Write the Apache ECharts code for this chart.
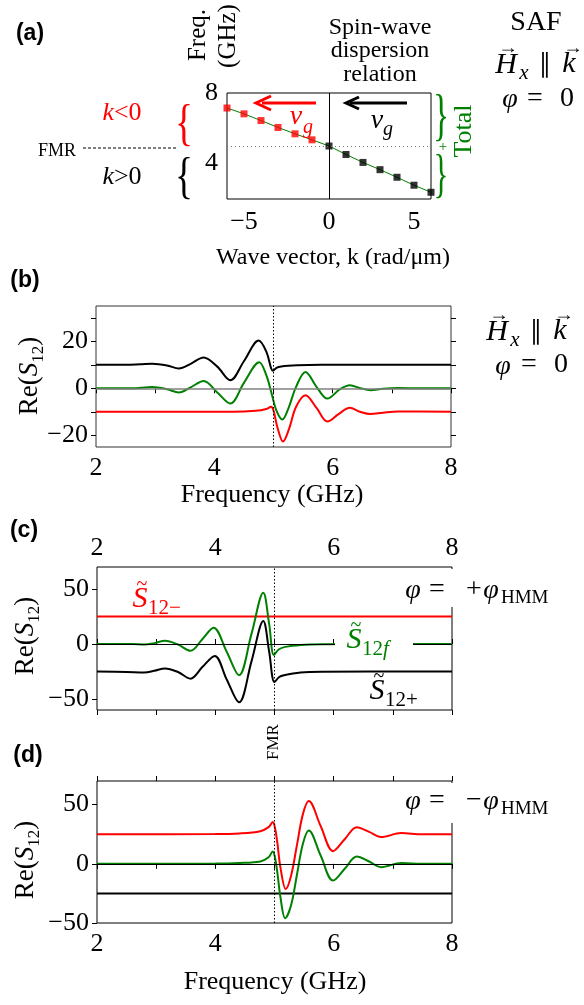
<!DOCTYPE html>
<html><head><meta charset="utf-8">
<script src="https://cdn.jsdelivr.net/npm/echarts@6/dist/echarts.min.js"></script>
<style>html,body{margin:0;padding:0;background:#fff}#c{width:584px;height:1005px}</style>
</head><body><div id="c"></div>
<script>
const SERIF = 'Liberation Serif';
const SANS = 'Liberation Sans';
const RED = '#ff0000', GREEN = '#008000', BLACK = '#000000';

// (a) spin-wave dispersion
const kValues = [-6,-5,-4,-3,-2,-1,0,1,2,3,4,5,6];
const fDispersion = [7.15,6.82,6.44,6.05,5.69,5.35,5.0,4.52,4.07,3.66,3.23,2.78,2.38];
const fmrFreq = 5;
const kTickLabels = [-5,0,5];
const aFreqLabels = [4,8];

// shared frequency axis
const freqTicks = [2,3,4,5,6,7,8];
const freqLabels = [2,4,6,8];

// (b) phi = 0
const bTicks = [-20,-10,0,10,20,30];
const bLabels = [-20,0,20];
const bBlack = [[2,10],[2.5,10],[2.75,10.2],[2.95,10.4],[3.2,9.7],[3.4,8.4],[3.6,10.4],[3.82,13.1],[4.05,9.2],[4.27,3.4],[4.5,11.5],[4.75,20.3],[4.88,15.5],[4.96,8.5],[4.99,7.4],[5.05,8.7],[5.13,9.3],[5.4,9.8],[5.8,10],[8,10]];
const bGreen = [[2,0],[2.6,0],[2.95,0.5],[3.2,-0.4],[3.4,-1.8],[3.6,0.4],[3.82,3.1],[4.05,-1.8],[4.27,-6.5],[4.5,2.3],[4.76,11.1],[4.88,5.5],[4.96,-1.5],[5.05,-9.5],[5.15,-13.3],[5.26,-8],[5.38,0.5],[5.54,6.9],[5.73,0.5],[5.91,-4.4],[6.12,-0.5],[6.29,1.3],[6.47,0],[6.64,-0.8],[6.85,-0.2],[7.1,0.1],[7.5,0],[8,0]];
const bRed = [[2,-10],[4.3,-10],[4.7,-9.6],[4.88,-8.8],[4.96,-7.9],[5.0,-9.5],[5.07,-17],[5.16,-22.7],[5.26,-17.5],[5.38,-8],[5.54,-3],[5.73,-8.5],[5.91,-14.2],[6.1,-11],[6.29,-8.3],[6.46,-10],[6.64,-11],[6.85,-10.4],[7.1,-9.9],[8,-10]];

// (c) phi = +phi_HMM
const cdLabels = [-50,0,50];
const cRed = [[2,25],[8,25]];
const cGreen = [[2,0],[2.6,0],[2.8,-0.5],[2.97,0.8],[3.15,3],[3.37,-0.5],[3.58,-6.2],[3.78,4.3],[3.97,14.8],[4.19,-6.8],[4.4,-28.4],[4.61,9],[4.81,46.6],[4.91,18],[4.99,-9.9],[5.07,-5],[5.18,-2.6],[5.45,-0.8],[5.8,-0.2],[8,0]];
const cBlack = [[2,-25],[2.5,-25.4],[2.8,-26],[2.97,-24.3],[3.15,-22.2],[3.37,-25.5],[3.58,-31.5],[3.78,-21],[3.99,-10.8],[4.19,-32],[4.4,-53],[4.61,-16],[4.81,21],[4.91,-7],[5.0,-34.6],[5.08,-30],[5.16,-28.4],[5.44,-26],[5.8,-25.3],[8,-25]];

// (d) phi = -phi_HMM
const dBlack = [[2,-25],[8,-25]];
const dRed = [[2,25],[4.0,25.2],[4.4,25.7],[4.76,27.6],[4.9,31],[4.97,35.3],[5.01,30],[5.05,17],[5.1,-3],[5.19,-21.2],[5.28,-10],[5.38,16],[5.48,42],[5.58,53],[5.78,32],[5.99,10.7],[6.19,21],[6.39,31],[6.6,27],[6.8,22.6],[7.14,26],[7.5,25],[8,25]];
const dGreen = [[2,0],[4.0,0.2],[4.4,0.7],[4.76,2],[4.9,5.5],[4.97,10.4],[5.01,5],[5.05,-8],[5.1,-28],[5.18,-46],[5.28,-35],[5.38,-9],[5.48,17],[5.58,28.2],[5.78,7],[5.99,-14.1],[6.19,-4],[6.39,6.2],[6.6,2],[6.8,-2.8],[7.14,0.6],[7.5,0],[8,0]];

const minus = v => String(v).replace('-', '\u2212');
const lbl = (vals, extra) => Object.assign({show:true, customValues:vals, color:'#000', fontFamily:SERIF, fontSize:26, margin:8, formatter:minus}, extra||{});
const tck = vals => ({show:true, customValues:vals, inside:false, length:5, lineStyle:{color:'#000', width:1}});
const off = {show:false};
const xA = (grid, min, max, pos, label, ticks) => ({type:'value', gridIndex:grid, min, max, interval:1, position:pos, axisLine:off, splitLine:off, axisTick: ticks ? tck(ticks) : off, axisLabel: label || off});
const yA = (grid, min, max, pos, label, ticks) => ({type:'value', gridIndex:grid, min, max, position:pos, axisLine:off, splitLine:off, axisTick: ticks ? tck(ticks) : off, axisLabel: label || off});

const curve = (xi, yi, data, color, extra) => Object.assign({type:'line', xAxisIndex:xi, yAxisIndex:yi, data, symbol:'none', showSymbol:false, smooth:0.35, lineStyle:{color, width:2}, itemStyle:{color}, silent:true, z:3}, extra||{});
const ml = (items) => ({silent:true, symbol:['none','none'], label:{show:false}, animation:false, data:items});

const dispData = kValues.map((k,i)=>[k, fDispersion[i]]);
const negData = dispData.filter(p=>p[0]<0);
const posData = dispData.filter(p=>p[0]>=0);

function T(x, y, text, o) {
  o = o || {};
  const st = {text, fill:o.color||'#000', fontSize:o.size||25, fontFamily:o.family||SERIF, fontStyle:o.italic?'italic':'normal', fontWeight:o.bold?'bold':'normal', align:o.align||'center', textAlign:o.align||'center', verticalAlign:'middle', textVerticalAlign:'middle'};
  if (o.lineHeight) st.lineHeight = o.lineHeight;
  if (o.rich) st.rich = o.rich;
  return {type:'text', x, y, z:100, rotation:o.rot||0, scaleX:o.sx||1, scaleY:o.sy||1, silent:true, style:st};
}
const L = (x1,y1,x2,y2,color,w,dash) => ({type:'line', z:100, silent:true, shape:{x1,y1,x2,y2}, style:{stroke:color, lineWidth:w, lineDash:dash||null}});
const P = (pts,color,w) => ({type:'polyline', z:100, silent:true, shape:{points:pts}, style:{stroke:color, lineWidth:w, fill:null}});
const R = (x,y,w,h) => ({type:'rect', z:90, silent:true, shape:{x,y,width:w,height:h}, style:{fill:'#fff'}});

const reRich = {a:{fontSize:27, fontFamily:SERIF, lineHeight:34}, i:{fontSize:27, fontFamily:SERIF, fontStyle:'italic', lineHeight:34}, s:{fontSize:17, fontFamily:SERIF, verticalAlign:'bottom'}};
const reLabel = (x,y) => T(x, y, '{a|Re(}{i|S}{s|12}{a|)}', {rot:Math.PI/2, rich:reRich});

function hBlock(dx, dy) {
  return [
    T(506+dx, 65+dy, 'H', {italic:true, size:30}),
    T(524+dx, 73+dy, 'x', {italic:true, size:21}),
    T(545+dx, 68+dy, '\u2225', {size:28, family:'DejaVu Serif', sx:0.8}),
    T(569+dx, 64+dy, 'k', {italic:true, size:30}),
    T(508+dx, 48+dy, '\u2192', {size:18, sx:1.1}),
    T(573+dx, 48+dy, '\u2192', {size:18, sx:1.1})
  ];
}
function phiBlock(x, y, sign) {
  return [
    T(x, y+1, '\u03c6', {italic:true, size:28}),
    T(x+24, y, '=', {size:28}),
    T(x+61, y, sign, {size:28}),
    T(x+78, y+1, '\u03c6', {italic:true, size:28}),
    T(x+88, y+8, 'HMM', {size:19, align:'left'})
  ];
}
function sTilde(x, y, sub, color) {
  return [
    T(x, y, 'S', {italic:true, size:30, color}),
    T(x+2, y-14, '~', {size:20, color}),
    T(x+8, y+9, sub, {size:21, color, align:'left', rich:{f:{fontSize:21, fontStyle:'italic', fontFamily:SERIF}}})
  ];
}

const graphics = [
  // panel letters
  T(30, 34, '(a)', {family:SANS, bold:true, size:23}),
  T(25, 281, '(b)', {family:SANS, bold:true, size:23}),
  T(24, 531, '(c)', {family:SANS, bold:true, size:23}),
  T(28, 756, '(d)', {family:SANS, bold:true, size:23}),
  // (a) annotations
  T(198, 35, 'Freq.', {rot:Math.PI/2, size:25}),
  T(228, 36, '(GHz)', {rot:Math.PI/2, size:25}),
  T(380, 51, 'Spin-wave\ndispersion\nrelation', {size:24, lineHeight:23.5}),
  T(536, 23, 'SAF', {size:28}),
  ...hBlock(0,0),
  T(510, 100, '\u03c6', {italic:true, size:28}),
  T(535, 99, '=', {size:28}),
  T(567, 99, '0', {size:28}),
  T(122, 113, '{i|k}{r|<0}', {color:RED, rich:{i:{fontStyle:'italic', fontSize:26, fontFamily:SERIF}, r:{fontSize:26, fontFamily:SERIF}}}),
  T(122, 177, '{i|k}{r|>0}', {rich:{i:{fontStyle:'italic', fontSize:26, fontFamily:SERIF}, r:{fontSize:26, fontFamily:SERIF}}}),
  T(184, 126, '{', {size:50, sx:0.75, color:RED}),
  T(184, 179, '{', {size:50, sx:0.75}),
  T(57, 151, 'FMR', {size:18}),
  L(83, 148, 178, 148, '#000', 1, [3,2]),
  L(262, 103, 316, 103, RED, 3), P([[271,96],[256,103],[271,110]], RED, 3),
  L(350, 103, 407, 103, BLACK, 3), P([[359,97],[346,103],[359,109]], BLACK, 3),
  T(296, 117, 'v', {italic:true, size:28, color:RED}),
  T(308, 128, 'g', {italic:true, size:20, color:RED}),
  T(377, 121, 'v', {italic:true, size:28}),
  T(388, 130, 'g', {italic:true, size:20}),
  T(441, 119, '}', {size:56, sx:0.6, color:GREEN}),
  T(441, 177, '}', {size:52, sx:0.6, color:GREEN}),
  T(443, 147, '+', {size:15, color:GREEN}),
  T(464, 131, 'Total', {rot:Math.PI/2, size:26, color:GREEN}),
  T(333, 258, 'Wave vector, k (rad/\u03bcm)', {size:24}),
  // (b)
  reLabel(30, 376),
  T(272, 495, 'Frequency (GHz)', {size:26}),
  ...hBlock(-9, 267),
  T(503, 367, '\u03c6', {italic:true, size:28}),
  T(529, 365, '=', {size:28}),
  T(561, 365, '0', {size:28}),
  // (c)
  reLabel(26, 636),
  R(402, 569, 168, 38),
  ...phiBlock(413, 590, '+'),
  ...sTilde(140, 599, '12\u2212', RED),
  R(335, 630, 78, 28),
  ...sTilde(354, 640, '12{f|f}', GREEN),
  ...sTilde(377, 691, '12+', BLACK),
  T(274, 742, 'FMR', {rot:Math.PI/2, size:17}),
  // (d)
  reLabel(26, 860),
  R(402, 783, 168, 40),
  ...phiBlock(413, 801, '\u2212'),
  T(275, 982, 'Frequency (GHz)', {size:26})
];

const gridBase = {show:true, borderColor:'#000', borderWidth:1, backgroundColor:'transparent', outerBoundsMode:'none', containLabel:false};
const option = {
  animation:false,
  backgroundColor:'#fff',
  grid:[
    Object.assign({left:227, top:93, width:204, height:106}, gridBase),
    Object.assign({left:96, top:306, width:355, height:141}, gridBase, {borderColor:'#333'}),
    Object.assign({left:97, top:567, width:355, height:143}, gridBase),
    Object.assign({left:97, top:781, width:355, height:142}, gridBase)
  ],
  xAxis:[
    {type:'value', gridIndex:0, min:-6, max:6, interval:1, axisLine:off, splitLine:off, axisTick:off, axisLabel:lbl(kTickLabels,{margin:10})},
    xA(1, 2, 8, 'bottom', lbl(freqLabels,{margin:8}), freqTicks),
    xA(2, 2, 8, 'top', lbl(freqLabels,{margin:6}), freqTicks),
    xA(2, 2, 8, 'bottom', null, freqTicks),
    xA(3, 2, 8, 'bottom', lbl(freqLabels,{margin:8}), freqTicks),
    xA(3, 2, 8, 'top', null, freqTicks)
  ],
  yAxis:[
    yA(0, 2, 8, 'left', lbl(aFreqLabels,{margin:9}), null),
    yA(1, -25, 35, 'left', lbl(bLabels), bTicks),
    yA(1, -25, 35, 'right', null, bTicks),
    yA(2, -60, 70, 'left', lbl(cdLabels), cdLabels),
    yA(3, -50, 70, 'left', lbl(cdLabels), cdLabels)
  ],
  series:[
    {type:'line', xAxisIndex:0, yAxisIndex:0, data:dispData, symbol:'none', showSymbol:false, lineStyle:{color:GREEN, width:1}, silent:true, z:2,
      markLine: ml([{xAxis:0, lineStyle:{color:'#000', width:1, type:'solid'}}, {yAxis:fmrFreq, lineStyle:{color:'#777', width:1, type:[1,3]}}])},
    {type:'scatter', xAxisIndex:0, yAxisIndex:0, data:negData, symbol:'rect', symbolSize:7, itemStyle:{color:RED}, silent:true, z:4},
    {type:'scatter', xAxisIndex:0, yAxisIndex:0, data:posData, symbol:'rect', symbolSize:7, itemStyle:{color:BLACK}, silent:true, z:4},

    curve(1, 1, bBlack, BLACK, {markLine: ml([{yAxis:0, lineStyle:{color:'#808080', width:1.5, type:'solid'}}, {xAxis:fmrFreq, lineStyle:{color:'#000', width:1, type:[1.5,2]}}])}),
    curve(1, 1, bGreen, GREEN),
    curve(1, 1, bRed, RED),

    curve(2, 3, cRed, RED, {smooth:false, markLine: ml([{yAxis:0, lineStyle:{color:'#000', width:1, type:'solid'}}, {xAxis:fmrFreq, lineStyle:{color:'#000', width:1, type:[1.5,2]}}])}),
    curve(2, 3, cGreen, GREEN),
    curve(2, 3, cBlack, BLACK),

    curve(4, 4, dBlack, BLACK, {smooth:false, markLine: ml([{yAxis:0, lineStyle:{color:'#000', width:1, type:'solid'}}, {xAxis:fmrFreq, lineStyle:{color:'#000', width:1, type:[1.5,2]}}])}),
    curve(4, 4, dGreen, GREEN),
    curve(4, 4, dRed, RED)
  ],
  graphic: graphics
};
const chart = echarts.init(document.getElementById('c'), null, {renderer:'canvas'});
chart.setOption(option);
</script></body></html>
